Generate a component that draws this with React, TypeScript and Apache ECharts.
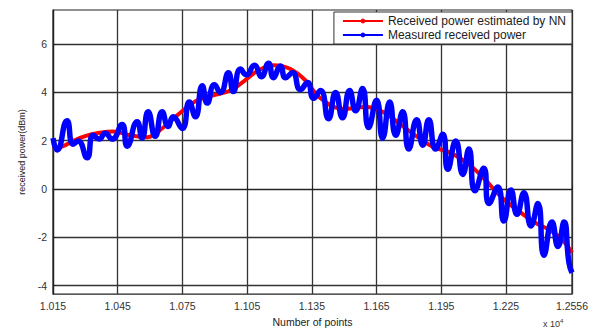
import React, { useEffect, useRef } from "react";
import * as echarts from "echarts";

const xTicks = [10150, 10450, 10750, 11050, 11350, 11650, 11950, 12250, 12556];
const xTickLabels = ["1.015", "1.045", "1.075", "1.105", "1.135", "1.165", "1.195", "1.225", "1.2556"];
const yTicks = [-4, -2, 0, 2, 4, 6];

const redX = [10150, 10196, 10243, 10299, 10354, 10429, 10508, 10587, 10661, 10740, 10819, 10893, 10972, 11033, 11098, 11172, 11251, 11321, 11390, 11497, 11599, 11678, 11762, 11841, 11915, 11994, 12073, 12147, 12226, 12305, 12380, 12459, 12514, 12556];
const redY = [1.65, 1.77, 1.98, 2.18, 2.3, 2.38, 2.22, 2.14, 2.54, 3.15, 3.67, 3.87, 4.07, 4.44, 4.88, 5.12, 4.96, 4.48, 3.75, 3.31, 3.39, 3.19, 2.66, 2.14, 1.73, 1.49, 1.05, 0.44, -0.32, -0.89, -1.37, -1.73, -2.14, -2.62];

const blueX = [10150, 10169, 10215, 10243, 10266, 10308, 10336, 10364, 10392, 10424, 10470, 10494, 10540, 10563, 10591, 10624, 10656, 10684, 10707, 10749, 10782, 10810, 10842, 10865, 10898, 10926, 10963, 10986, 11019, 11046, 11084, 11116, 11149, 11172, 11204, 11228, 11260, 11297, 11330, 11358, 11390, 11427, 11460, 11492, 11525, 11553, 11585, 11613, 11650, 11678, 11711, 11739, 11771, 11799, 11836, 11864, 11892, 11924, 11957, 11980, 12017, 12050, 12078, 12106, 12147, 12171, 12212, 12240, 12273, 12301, 12333, 12366, 12398, 12426, 12463, 12491, 12519, 12542, 12556];
const blueY = [2.1, 1.61, 2.82, 1.85, 1.98, 1.29, 2.22, 2.06, 2.3, 2.06, 2.66, 1.77, 2.78, 2.1, 3.19, 2.18, 3.19, 2.58, 2.98, 2.5, 3.59, 2.98, 4.27, 3.55, 4.31, 3.99, 4.8, 4.03, 4.96, 4.72, 5.12, 4.64, 5.2, 4.6, 5.08, 4.6, 4.8, 4.11, 4.4, 3.75, 4.07, 2.9, 3.99, 2.94, 4.07, 3.23, 4.15, 2.54, 3.67, 2.1, 3.59, 2.22, 3.19, 1.65, 2.86, 1.81, 2.86, 1.65, 2.26, 0.81, 1.98, 0.6, 1.65, -0.08, 0.85, -0.6, 0.08, -1.33, -0.04, -1.05, -0.16, -1.53, -0.6, -2.74, -1.37, -2.38, -1.37, -3.06, -3.47];

const FONT = "Liberation Sans, Arial, sans-serif";

export default function App() {
  const ref = useRef<HTMLDivElement>(null);
  useEffect(() => {
    const chart = echarts.init(ref.current!, null, { renderer: "svg" });
    const redData = redX.map((x, i) => [x, redY[i]]);
    const blueData = blueX.map((x, i) => [x, blueY[i]]);
    chart.setOption({
      animation: false,
      backgroundColor: "#ffffff",
      grid: {
        left: 53,
        right: 29,
        top: 10,
        bottom: 30,
        show: true,
        borderColor: "#222",
        borderWidth: 1.2,
        backgroundColor: "transparent",
      },
      legend: {
        orient: "vertical",
        right: 29,
        top: 12,
        backgroundColor: "#fff",
        borderColor: "#333",
        borderWidth: 1,
        borderRadius: 0,
        padding: [3, 6, 3, 8],
        itemWidth: 40,
        itemHeight: 6,
        itemGap: 2,
        textStyle: { fontFamily: FONT, fontSize: 12, color: "#222" },
        data: ["Received power estimated by NN", "Measured received power"],
      },
      xAxis: {
        type: "value",
        min: 10150,
        max: 12556,
        name: "Number of points",
        nameLocation: "middle",
        nameGap: 17,
        nameTextStyle: { fontFamily: FONT, fontSize: 10.5, color: "#222" },
        axisLine: { show: true, lineStyle: { color: "#222", width: 1.2 } },
        axisTick: { show: true, inside: true, length: 3, lineStyle: { color: "#222" }, customValues: xTicks },
        axisLabel: {
          customValues: xTicks,
          fontFamily: FONT,
          fontSize: 10.5,
          color: "#333",
          margin: 6,
          formatter: (v: number) => {
            const i = xTicks.indexOf(v);
            return i >= 0 ? xTickLabels[i] : "";
          },
        },
        splitLine: { show: true, lineStyle: { color: "#333", width: 1.3, type: "solid" } },
      },
      yAxis: {
        type: "value",
        min: -4.35,
        max: 7.4,
        name: "received power(dBm)",
        nameLocation: "middle",
        nameGap: 26,
        nameTextStyle: { fontFamily: FONT, fontSize: 9, color: "#222" },
        axisLine: { show: true, lineStyle: { color: "#222", width: 1.2 } },
        axisTick: { show: true, inside: true, length: 3, lineStyle: { color: "#222" }, customValues: yTicks },
        axisLabel: {
          customValues: yTicks,
          fontFamily: FONT,
          fontSize: 10.5,
          color: "#333",
          margin: 6,
        },
        splitLine: { show: true, lineStyle: { color: "#333", width: 1.3, type: "solid" } },
      },
      graphic: [
        {
          type: "text",
          left: 543,
          top: 318,
          style: {
            text: "{a|x 10}{b|4}",
            rich: {
              a: { fontFamily: FONT, fontSize: 9, fill: "#333" },
              b: { fontFamily: FONT, fontSize: 6, fill: "#333", verticalAlign: "top", padding: [0, 0, 6, 0] },
            },
          },
        },
      ],
      series: [
        {
          name: "Received power estimated by NN",
          type: "line",
          data: redData,
          smooth: 0.4,
          symbol: "circle",
          symbolSize: 4,
          showSymbol: false,
          itemStyle: { color: "#ff0000" },
          lineStyle: { color: "#ff0000", width: 4 },
          z: 2,
        },
        {
          name: "Measured received power",
          type: "line",
          data: blueData,
          smooth: 0.55,
          symbol: "circle",
          symbolSize: 4,
          showSymbol: false,
          itemStyle: { color: "#0000ff" },
          lineStyle: { color: "#0000ff", width: 5.5 },
          z: 3,
        },
      ],
    });
    return () => chart.dispose();
  }, []);
  return (
    <div
      ref={ref}
      style={{ position: "fixed", left: 0, top: 0, width: 601, height: 332, background: "#fff" }}
    />
  );
}
